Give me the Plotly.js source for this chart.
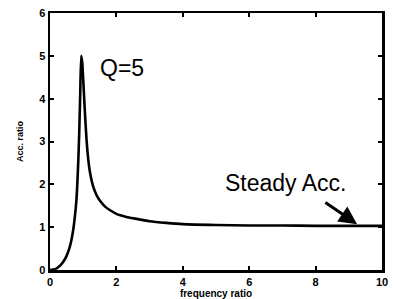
<!DOCTYPE html>
<html>
<head>
<meta charset="utf-8">
<script src="https://cdn.plot.ly/plotly-3.0.1.min.js"></script>
<style>html,body{margin:0;padding:0;background:#fff;}#chart{width:395px;height:299px;}</style>
</head>
<body>
<div id="chart"></div>
<script>
var freqRatio = [0, 0.1, 0.2, 0.3, 0.4, 0.5, 0.6, 0.65, 0.7, 0.75, 0.8, 0.85, 0.88, 0.91, 0.94, 0.97, 1.0, 1.05, 1.1, 1.15, 1.2, 1.3, 1.4, 1.5, 1.66, 1.8, 2.0, 2.3, 2.56, 3.0, 3.5, 4.0, 5, 6, 7, 8, 9, 10];
var accRatio  = [0, 0.01, 0.04, 0.10, 0.19, 0.33, 0.55, 0.72, 0.94, 1.25, 1.68, 2.5, 3.2, 4.1, 5.0, 4.85, 4.45, 3.7, 3.05, 2.6, 2.3, 1.95, 1.75, 1.62, 1.48, 1.4, 1.31, 1.24, 1.2, 1.14, 1.1, 1.07, 1.05, 1.04, 1.04, 1.03, 1.03, 1.03];
var xTicks = [0, 2, 4, 6, 8, 10];
var yTicks = [0, 1, 2, 3, 4, 5, 6];
var qLabel = "Q=5";
var steadyLabel = "Steady Acc.";

var font = "Liberation Sans, Arial, sans-serif";
var trace = {
  x: freqRatio, y: accRatio, type: "scatter", mode: "lines",
  line: {color: "#000", width: 2.6, shape: "spline", smoothing: 0.6},
  hoverinfo: "skip"
};
var layout = {
  width: 395, height: 299,
  margin: {l: 50, r: 13, t: 13, b: 29},
  paper_bgcolor: "#fff", plot_bgcolor: "#fff",
  showlegend: false,
  xaxis: {
    range: [0, 10], tickvals: xTicks, ticktext: xTicks.map(String),
    showgrid: false, zeroline: false, showline: true, linecolor: "#000", linewidth: 2.5,
    mirror: "ticks", ticks: "inside", ticklen: 4, tickwidth: 2, tickcolor: "#000",
    tickfont: {family: font, size: 11, color: "#000", weight: "bold"},
    title: {text: "frequency ratio", font: {family: font, size: 10, color: "#000", weight: "bold"}, standoff: 2}
  },
  yaxis: {
    range: [0, 6], tickvals: yTicks, ticktext: yTicks.map(String),
    showgrid: false, zeroline: false, showline: true, linecolor: "#000", linewidth: 2.5,
    mirror: "ticks", ticks: "inside", ticklen: 4, tickwidth: 2, tickcolor: "#000",
    tickfont: {family: font, size: 11, color: "#000", weight: "bold"},
    title: {text: "Acc. ratio", font: {family: font, size: 9, color: "#000", weight: "bold"}, standoff: 14}
  },
  annotations: [
    {x: 2.17, y: 4.72, xref: "x", yref: "y", text: qLabel, showarrow: false,
     font: {family: font, size: 23, color: "#000"}},
    {x: 7.1, y: 2.03, xref: "x", yref: "y", text: steadyLabel, showarrow: false,
     font: {family: font, size: 23, color: "#000"}},
    {x: 9.25, y: 1.07, xref: "x", yref: "y", ax: 8.25, ay: 1.6, axref: "x", ayref: "y",
     text: "", showarrow: true, arrowhead: 2, arrowsize: 1.2, arrowwidth: 3, arrowcolor: "#000"}
  ]
};
Plotly.newPlot("chart", [trace], layout, {staticPlot: true, displayModeBar: false});
</script>
</body>
</html>
